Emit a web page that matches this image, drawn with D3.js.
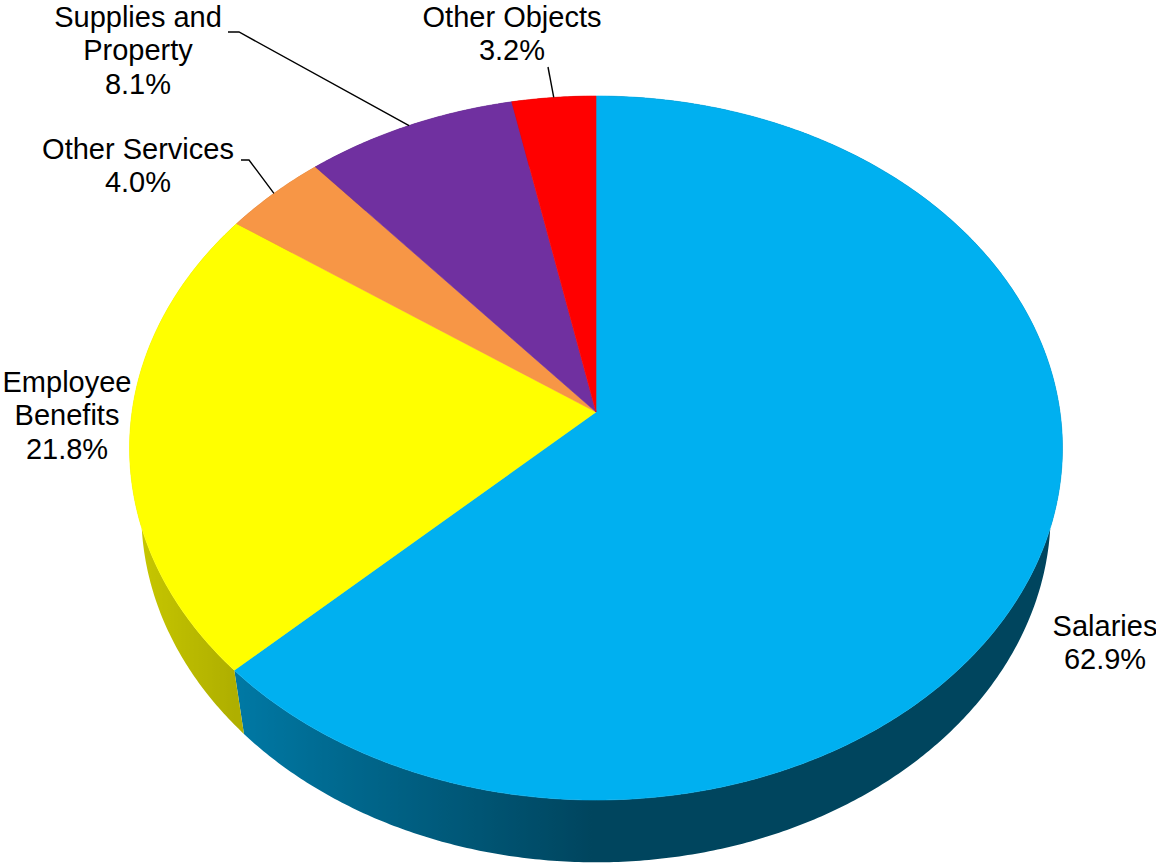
<!DOCTYPE html>
<html>
<head>
<meta charset="utf-8">
<script src="https://cdn.jsdelivr.net/npm/d3@7"></script>
<style>
  html, body { margin: 0; padding: 0; background: #ffffff; }
  svg { display: block; }
  text { font-family: "Liberation Sans", Arial, sans-serif; font-size: 29px; fill: #000; }
</style>
</head>
<body>
<svg id="chart" width="1156" height="866"></svg>
<script>
// Spending by object class, share of total (%)
const categories = ["Salaries", "Employee Benefits", "Other Services", "Supplies and Property", "Other Objects"];
const shares = [62.9, 21.8, 4.0, 8.1, 3.2];
const labelLines = [["Salaries"], ["Employee", "Benefits"], ["Other Services"], ["Supplies and", "Property"], ["Other Objects"]];
const sliceColors = ["#00B0F0", "#FFFF00", "#F79646", "#7030A0", "#FF0000"];

// Label placement (text centre x, first baseline y) and leader-line anchors
const labelLayout = {
  "Salaries":              { x: 1105, y: 636 },
  "Employee Benefits":     { x: 67,   y: 392 },
  "Other Services":        { x: 138,  y: 159, leader: [[241, 160], [249, 160]] },
  "Supplies and Property": { x: 138,  y: 27,  leader: [[228, 32], [239, 32]] },
  "Other Objects":         { x: 512,  y: 27,  leader: [[548, 67]] }
};
const lineStep = 33.4;

const svg = d3.select("#chart");
const defs = svg.append("defs");

// 3D view of a unit disc: tilted towards the viewer with perspective
const view = {
  cx: 596, cy: 412,      // screen position of the pie centre (top face)
  scale: 464,            // projected radius at the centre depth
  dist: 6.458,           // camera distance in radii
  tilt: Math.asin(0.7507),
  thickness: 0.22        // pie height in radii
};
const sinT = Math.sin(view.tilt), cosT = Math.cos(view.tilt);

function project(x, y, z) {
  const Y = y * cosT - z * sinT;
  const depth = view.dist - y * sinT - z * cosT;
  const k = view.scale * view.dist / depth;
  return [view.cx + x * k, view.cy - Y * k];
}
// point on the rim at angle a (clockwise from the back), height y
function rim(a, y) { return project(Math.sin(a), y, -Math.cos(a)); }

const pie = d3.pie().sort(null).value(d => d).startAngle(0).endAngle(2 * Math.PI);
const arcs = pie(shares);

const step = Math.PI / 360;
function arcAngles(a0, a1) {
  const n = Math.max(2, Math.ceil((a1 - a0) / step));
  return d3.range(n + 1).map(i => a0 + (a1 - a0) * i / n);
}

// side shading: lit from the left, darker towards the front and right
function wallShade(base, a) {
  const f = 0.39 + 0.41 * Math.max(0, -Math.sin(a));
  const c = d3.rgb(base);
  return d3.rgb(c.r * f, c.g * f, c.b * f).formatHex();
}

const line = d3.line();
const gWalls = svg.append("g");
const gTops = svg.append("g");

// outer walls: one path per slice, shaded with a horizontal gradient
arcs.forEach((d, i) => {
  const angs = arcAngles(d.startAngle, d.endAngle);
  const top = angs.map(a => rim(a, 0));
  const bot = angs.map(a => rim(a, -view.thickness)).reverse();

  const f0 = Math.max(d.startAngle, Math.PI / 2);
  const f1 = Math.min(d.endAngle, 3 * Math.PI / 2);
  let fill = wallShade(sliceColors[i], (d.startAngle + d.endAngle) / 2);
  if (f1 > f0) {
    const samples = arcAngles(f0, f1).map(a => ({ x: rim(a, 0)[0], c: wallShade(sliceColors[i], a) }))
      .sort((p, q) => p.x - q.x);
    const x0 = samples[0].x, x1 = samples[samples.length - 1].x;
    const id = "wall" + i;
    const grad = defs.append("linearGradient")
      .attr("id", id)
      .attr("gradientUnits", "userSpaceOnUse")
      .attr("x1", x0).attr("y1", 0).attr("x2", x1).attr("y2", 0);
    samples.forEach(s => {
      grad.append("stop")
        .attr("offset", x1 > x0 ? (s.x - x0) / (x1 - x0) : 0)
        .attr("stop-color", s.c);
    });
    fill = `url(#${id})`;
  }
  gWalls.append("path")
    .attr("d", line(top.concat(bot)) + "Z")
    .attr("fill", fill);
});

arcs.forEach((d, i) => {
  const pts = [project(0, 0, 0)].concat(arcAngles(d.startAngle, d.endAngle).map(a => rim(a, 0)));
  gTops.append("path")
    .attr("d", line(pts) + "Z")
    .attr("fill", sliceColors[i])
    .attr("stroke", sliceColors[i])
    .attr("stroke-width", 0.6)
    .attr("stroke-linejoin", "round");
});

// leader lines and labels
const fmt = d3.format(".1f");
const gLabels = svg.append("g");
arcs.forEach((d, i) => {
  const name = categories[i];
  const lay = labelLayout[name];
  if (lay.leader) {
    const mid = (d.startAngle + d.endAngle) / 2;
    const pts = lay.leader.concat([rim(mid, 0)]);
    gLabels.append("path")
      .attr("d", line(pts))
      .attr("fill", "none")
      .attr("stroke", "#000")
      .attr("stroke-width", 1.4);
  }
  const lines = labelLines[i].concat([fmt(shares[i]) + "%"]);
  const t = gLabels.append("text").attr("text-anchor", "middle");
  lines.forEach((s, k) => {
    t.append("tspan").attr("x", lay.x).attr("y", lay.y + k * lineStep).text(s);
  });
});
</script>
</body>
</html>
